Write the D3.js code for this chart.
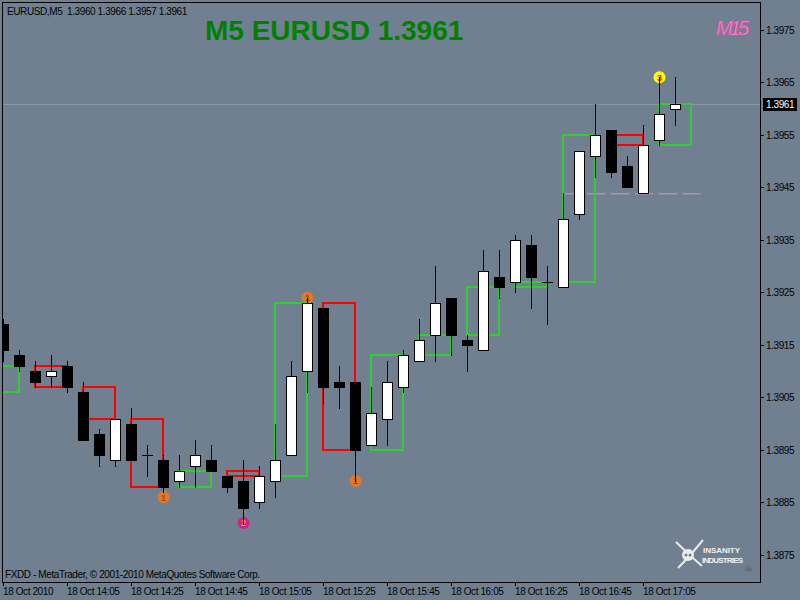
<!DOCTYPE html>
<html>
<head>
<meta charset="utf-8">
<script src="https://cdnjs.cloudflare.com/ajax/libs/d3/7.8.5/d3.min.js"></script>
<style>
body { margin: 0; background: #708090; }
text { font-family: "Liberation Sans", Arial, sans-serif; }
.small { font-size: 10px; letter-spacing: -0.4px; fill: #000; }
</style>
</head>
<body>
<script>
var width = 800,
    height = 600;

var plotLeft = 2, plotTop = 2, plotRight = 760, plotBottom = 582;

// M5 bars, 18 Oct 2010, first bar 13:45
var opens  = [1.3919,1.3913,1.3910,1.3909,1.3911,1.3906,1.3898,1.3893,1.3900,1.3894,
              1.3893,1.3889,1.3892,1.3893,1.3890,1.3889,1.3885,1.3889,1.3894,1.3910,
              1.3922,1.3908,1.3908,1.3896,1.3901,1.3907,1.3912,1.3917,1.3924,1.3916,
              1.3914,1.3928,1.3927,1.3934,1.3927,1.3926,1.3940,1.3951,1.3956,1.3949,
              1.3944,1.3954,1.3960];
var highs  = [1.3920,1.3914,1.3912,1.3913,1.3912,1.3908,1.3899,1.3901,1.3903,1.3896,
              1.3894,1.3894,1.3897,1.3896,1.3890,1.3893,1.3892,1.3900,1.3912,1.3924,
              1.3922,1.3911,1.3908,1.3907,1.3912,1.3914,1.3920,1.3930,1.3924,1.3917,
              1.3933,1.3933,1.3936,1.3936,1.3930,1.3944,1.3952,1.3961,1.3956,1.3951,
              1.3957,1.3966,1.3966];
var lows   = [1.3912,1.3910,1.3907,1.3907,1.3906,1.3897,1.3892,1.3892,1.3893,1.3890,
              1.3887,1.3888,1.3888,1.3891,1.3887,1.3881,1.3884,1.3886,1.3894,1.3906,
              1.3904,1.3903,1.3889,1.3896,1.3896,1.3906,1.3912,1.3912,1.3913,1.3910,
              1.3914,1.3924,1.3925,1.3922,1.3919,1.3926,1.3939,1.3947,1.3947,1.3945,
              1.3944,1.3953,1.3957];
var closes = [1.3914,1.3911,1.3908,1.3910,1.3907,1.3897,1.3894,1.3901,1.3893,1.3894,
              1.3888,1.3891,1.3894,1.3891,1.3888,1.3884,1.3890,1.3893,1.3909,1.3923,
              1.3907,1.3907,1.3895,1.3902,1.3908,1.3913,1.3916,1.3923,1.3917,1.3915,
              1.3929,1.3926,1.3935,1.3928,1.3927,1.3939,1.3952,1.3955,1.3948,1.3945,
              1.3953,1.3959,1.3961];

// M15 boxes (first M5 bar of each box, open, close)
var boxStart = [-1, 2, 5, 8, 11, 14, 17, 20, 23, 26, 29, 32, 35, 38, 41];
var boxOpen  = [1.3906,1.3911,1.3907,1.3901,1.3888,1.3891,1.3890,1.3923,1.3895,1.3913,1.3917,1.3926,1.3927,1.3955,1.3953];
var boxClose = [1.3911,1.3907,1.3901,1.3888,1.3891,1.3890,1.3923,1.3895,1.3913,1.3917,1.3926,1.3927,1.3955,1.3953,1.3961];

// round markers
var markerBars   = [10, 19, 22, 15, 41];
var markerPrices = [1.38860, 1.39240, 1.38891, 1.38811, 1.39660];
var markerColors = ["#e0782a", "#e0782a", "#e0782a", "#d0208c", "#ffff00"];
var markerText   = ["1", "1", "1", "2", "3"];
var markerTextColors = ["#a04810", "#a04810", "#a04810", "#e8a020", "#d02020"];

var priceTicks = [1.3975, 1.3965, 1.3955, 1.3945, 1.3935, 1.3925, 1.3915, 1.3905, 1.3895, 1.3885, 1.3875];
var timeTickBars = [0, 4, 8, 12, 16, 20, 24, 28, 32, 36, 40];
var timeLabels = ["18 Oct 2010", "18 Oct 14:05", "18 Oct 14:25", "18 Oct 14:45", "18 Oct 15:05",
                  "18 Oct 15:25", "18 Oct 15:45", "18 Oct 16:05", "18 Oct 16:25", "18 Oct 16:45", "18 Oct 17:05"];

var bidPrice = 1.3961;
var pinkLevel = 1.39438, pinkFrom = 35, pinkTo = 43.6;

var x = d3.scaleLinear().domain([0, 42]).range([3, 675]);
var y = d3.scaleLinear().domain([1.3875, 1.3975]).range([555, 30]);

var svg = d3.select("body").append("svg")
    .attr("width", width)
    .attr("height", height)
    .style("display", "block");

svg.append("rect").attr("width", width).attr("height", height).attr("fill", "#708090");

svg.append("defs").append("clipPath").attr("id", "plot")
  .append("rect")
    .attr("x", plotLeft + 1).attr("y", plotTop + 1)
    .attr("width", plotRight - plotLeft - 1).attr("height", plotBottom - plotTop - 1);

var plot = svg.append("g").attr("clip-path", "url(#plot)");

// bid line
plot.append("line")
    .attr("x1", plotLeft).attr("x2", plotRight)
    .attr("y1", Math.round(y(bidPrice)) + 0.5).attr("y2", Math.round(y(bidPrice)) + 0.5)
    .attr("stroke", "#8797a7");

// markers sit under the candles
var bars = d3.range(opens.length);
var mk = plot.append("g").selectAll("g").data(markerBars).enter().append("g")
    .attr("transform", (d, i) => "translate(" + (x(d) + 0.5) + "," + y(markerPrices[i]) + ")");
mk.append("circle").attr("r", 6).attr("fill", (d, i) => markerColors[i]);
mk.append("text")
    .attr("text-anchor", "middle").attr("y", 3.5)
    .attr("font-size", "9px").attr("font-weight", "bold")
    .attr("fill", (d, i) => markerTextColors[i])
    .text((d, i) => markerText[i]);

// pink dashed level
plot.append("line")
    .attr("x1", x(pinkFrom)).attr("x2", x(pinkTo))
    .attr("y1", y(pinkLevel)).attr("y2", y(pinkLevel))
    .attr("stroke", "#ee82ee").attr("stroke-dasharray", "18,6");

// M15 boxes
plot.append("g").selectAll("rect").data(boxStart).enter().append("rect")
    .attr("x", d => Math.round(x(d)))
    .attr("width", d => Math.round(x(d + 2)) - Math.round(x(d)))
    .attr("y", (d, i) => Math.round(y(Math.max(boxOpen[i], boxClose[i]))))
    .attr("height", (d, i) => Math.abs(Math.round(y(boxOpen[i])) - Math.round(y(boxClose[i]))))
    .attr("fill", "none")
    .attr("stroke", (d, i) => boxClose[i] >= boxOpen[i] ? "#32cd32" : "#ff0000")
    .attr("stroke-width", 2);

// small green arrow trace near the last bars
plot.append("line")
    .attr("x1", x(40.35)).attr("y1", y(1.39525))
    .attr("x2", x(41.15)).attr("y2", y(1.39598))
    .attr("stroke", "#32cd32").attr("stroke-dasharray", "2,3");

// candles
var cg = plot.append("g").selectAll("g").data(bars).enter().append("g");
cg.append("line")
    .attr("x1", d => Math.round(x(d)) + 0.5).attr("x2", d => Math.round(x(d)) + 0.5)
    .attr("y1", d => Math.round(y(highs[d])))
    .attr("y2", d => Math.round(y(lows[d])) + 1)
    .attr("stroke", "#000");
cg.filter(d => opens[d] !== closes[d]).append("rect")
    .attr("x", d => Math.round(x(d)) - 4.5)
    .attr("width", 10)
    .attr("y", d => Math.round(y(Math.max(opens[d], closes[d]))) + 0.5)
    .attr("height", d => Math.round(y(Math.min(opens[d], closes[d]))) - Math.round(y(Math.max(opens[d], closes[d]))))
    .attr("fill", d => closes[d] > opens[d] ? "#fff" : "#000")
    .attr("stroke", "#000");
cg.filter(d => opens[d] === closes[d]).append("line")
    .attr("x1", d => Math.round(x(d)) - 5).attr("x2", d => Math.round(x(d)) + 6)
    .attr("y1", d => Math.round(y(opens[d])) + 0.5).attr("y2", d => Math.round(y(opens[d])) + 0.5)
    .attr("stroke", "#000");

// frame
svg.append("rect")
    .attr("x", plotLeft + 0.5).attr("y", plotTop + 0.5)
    .attr("width", plotRight - plotLeft).attr("height", plotBottom - plotTop)
    .attr("fill", "none").attr("stroke", "#000");

// price scale
var pa = svg.append("g").selectAll("g").data(priceTicks).enter().append("g")
    .attr("transform", d => "translate(0," + (Math.round(y(d)) + 0.5) + ")");
pa.append("line").attr("x1", plotRight).attr("x2", plotRight + 4).attr("stroke", "#000");
pa.append("text").attr("class", "small").attr("x", plotRight + 6).attr("y", 3.5)
    .text(d => d.toFixed(4));

var by = Math.round(y(bidPrice));
svg.append("rect").attr("x", 763).attr("y", by - 6).attr("width", 34).attr("height", 13).attr("fill", "#000");
svg.append("text").attr("class", "small").attr("x", 766).attr("y", by + 4)
    .style("fill", "#fff").text(bidPrice.toFixed(4));

// time scale
var ta = svg.append("g").selectAll("g").data(timeTickBars).enter().append("g")
    .attr("transform", d => "translate(" + (Math.round(x(d)) + 0.5) + ",0)");
ta.append("line").attr("y1", plotBottom).attr("y2", plotBottom + 4).attr("stroke", "#000");
ta.append("text").attr("class", "small").attr("x", -0.5).attr("y", 595)
    .text((d, i) => timeLabels[i]);

// header / footer texts
svg.append("text").attr("class", "small").attr("x", 7).attr("y", 15)
    .style("white-space", "pre")
    .text("EURUSD,M5  1.3960 1.3966 1.3957 1.3961");
svg.append("text").attr("class", "small").attr("x", 5).attr("y", 578)
    .text("FXDD - MetaTrader, \u00a9 2001-2010 MetaQuotes Software Corp.");

svg.append("text")
    .attr("x", 205).attr("y", 40)
    .attr("font-size", "28px").attr("font-weight", "bold")
    .attr("fill", "#008000")
    .text("M5 EURUSD 1.3961");

svg.append("text")
    .attr("x", 716).attr("y", 35)
    .attr("font-family", "DejaVu Serif").attr("font-style", "italic")
    .attr("font-size", "20px").attr("textLength", 33)
    .attr("fill", "#ff88dd").attr("stroke", "#e0409a").attr("stroke-width", 0.5)
    .text("M15");

// logo, bottom right
var logo = svg.append("g").attr("transform", "translate(688,556)");
logo.append("path").attr("d", "M-12,-14 Q0,-2 14,10").attr("stroke", "#e8e8e8").attr("stroke-width", 2).attr("fill", "none");
logo.append("path").attr("d", "M15,-16 Q2,0 -10,12").attr("stroke", "#e8e8e8").attr("stroke-width", 2).attr("fill", "none");
logo.append("circle").attr("r", 6).attr("cy", -1).attr("fill", "#eeeeee");
logo.append("circle").attr("r", 1.5).attr("cx", -2).attr("cy", -1).attr("fill", "#708090");
logo.append("circle").attr("r", 1.5).attr("cx", 2).attr("cy", -1).attr("fill", "#708090");
logo.append("text").attr("x", 15).attr("y", -3)
    .attr("font-family", "DejaVu Serif").attr("font-weight", "bold").attr("font-size", "8px")
    .attr("textLength", 37).attr("fill", "#f0f0f0").text("INSANITY");
logo.append("text").attr("x", 14).attr("y", 7)
    .attr("font-family", "DejaVu Serif").attr("font-weight", "bold").attr("font-size", "8px")
    .attr("textLength", 41).attr("fill", "#f0f0f0").text("INDUSTRIES");
svg.append("text").attr("x", 748).attr("y", 572).attr("text-anchor", "middle")
    .attr("font-size", "10px").attr("fill", "#505860").text("\u2620");
</script>
</body>
</html>
